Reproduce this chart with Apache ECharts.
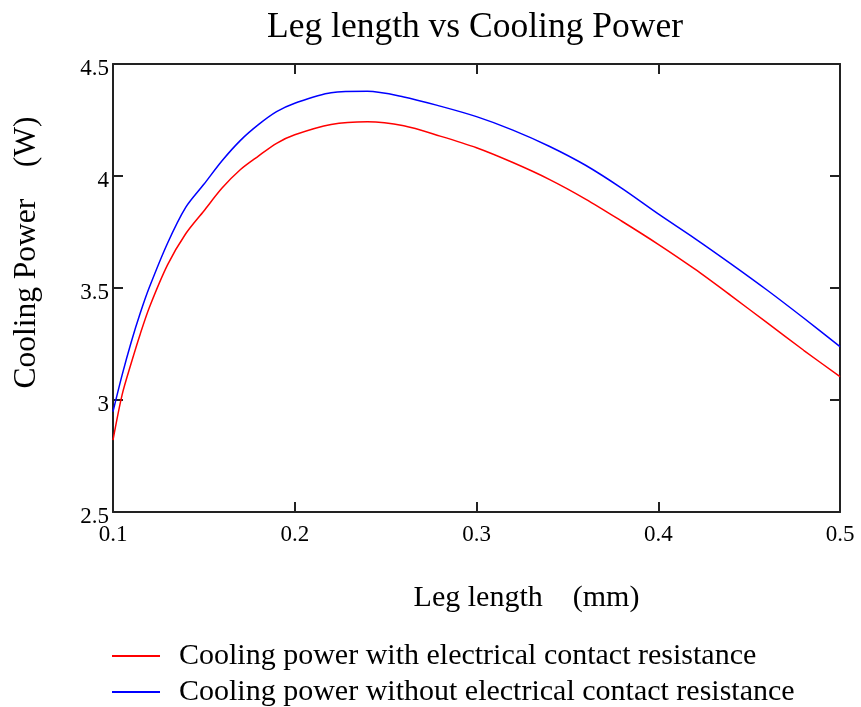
<!DOCTYPE html>
<html>
<head>
<meta charset="utf-8">
<script src="https://cdn.jsdelivr.net/npm/echarts@6/dist/echarts.min.js"></script>
<style>
html,body{margin:0;padding:0;background:#fff;}
#chart{width:861px;height:707px;}
</style>
</head>
<body>
<div id="chart"></div>
<script>
var legLength = [0.100, 0.105, 0.110, 0.115, 0.120, 0.130, 0.140, 0.150, 0.160, 0.170, 0.180, 0.190, 0.200, 0.220, 0.240, 0.260, 0.280, 0.300, 0.320, 0.340, 0.360, 0.380, 0.400, 0.420, 0.440, 0.460, 0.480, 0.500];
var powerWithContact = [2.821, 3.023, 3.164, 3.295, 3.413, 3.603, 3.742, 3.844, 3.946, 4.028, 4.089, 4.146, 4.184, 4.230, 4.242, 4.224, 4.178, 4.126, 4.060, 3.985, 3.897, 3.798, 3.695, 3.585, 3.466, 3.344, 3.222, 3.104];
var powerWithoutContact = [2.948, 3.111, 3.258, 3.388, 3.503, 3.700, 3.860, 3.963, 4.068, 4.158, 4.229, 4.287, 4.325, 4.372, 4.378, 4.353, 4.312, 4.265, 4.205, 4.133, 4.048, 3.945, 3.831, 3.722, 3.608, 3.490, 3.366, 3.238];
var seriesNames = ['Cooling power with electrical contact resistance', 'Cooling power without electrical contact resistance'];
var titleText = 'Leg length vs Cooling Power';
var xName = 'Leg length    (mm)';
var yName = 'Cooling Power    (W)';

function pairs(xs, ys){ return xs.map(function(x,i){ return [x, ys[i]]; }); }

var FONT = "'Liberation Serif', 'Times New Roman', serif";
var axisLineStyle = {color:'#222', width:2};
var chart = echarts.init(document.getElementById('chart'), null, {renderer:'canvas'});
chart.setOption({
  animation:false,
  backgroundColor:'#fff',
  title:{text:titleText, left:475, textAlign:'center', top:10, padding:0,
    textStyle:{fontFamily:FONT, fontSize:35.5, fontWeight:'normal', color:'#000'}},
  legend:{orient:'vertical', left:112, top:641, padding:0, itemWidth:48, itemHeight:2, itemGap:6,
    icon:'rect',
    data:seriesNames,
    textStyle:{fontFamily:FONT, fontSize:30, lineHeight:30, color:'#000', padding:[0,0,0,14]}},
  grid:{left:113, right:21, top:64, bottom:195, containLabel:false},
  xAxis:[{
    type:'value', min:0.1, max:0.5, interval:0.1, position:'bottom',
    name:xName, nameLocation:'middle', nameGap:71,
    nameTextStyle:{fontFamily:FONT, fontSize:30, color:'#000', padding:[0,0,0,100]},
    axisLine:{show:true, onZero:false, lineStyle:axisLineStyle},
    axisTick:{show:true, inside:true, length:10, lineStyle:axisLineStyle},
    axisLabel:{fontFamily:FONT, fontSize:23, color:'#000', margin:11,
      formatter:function(v){return String(Math.round(v*10)/10);}},
    splitLine:{show:false}
  },{
    type:'value', min:0.1, max:0.5, interval:0.1, position:'top',
    axisLine:{show:true, onZero:false, lineStyle:axisLineStyle},
    axisTick:{show:true, inside:true, length:10, lineStyle:axisLineStyle},
    axisLabel:{show:false}, splitLine:{show:false}
  }],
  yAxis:[{
    type:'value', min:2.5, max:4.5, interval:0.5, position:'left',
    name:yName, nameLocation:'middle', nameGap:70, nameRotate:90,
    nameTextStyle:{fontFamily:FONT, fontSize:31.5, color:'#000', padding:[0,0,0,71]},
    axisLine:{show:true, onZero:false, lineStyle:axisLineStyle},
    axisTick:{show:true, inside:true, length:10, lineStyle:axisLineStyle},
    axisLabel:{fontFamily:FONT, fontSize:23, color:'#000', margin:4, verticalAlign:'top', lineHeight:10,
      formatter:function(v){return String(Math.round(v*10)/10);}},
    splitLine:{show:false}
  },{
    type:'value', min:2.5, max:4.5, interval:0.5, position:'right',
    axisLine:{show:true, onZero:false, lineStyle:axisLineStyle},
    axisTick:{show:true, inside:true, length:10, lineStyle:axisLineStyle},
    axisLabel:{show:false}, splitLine:{show:false}
  }],
  series:[{
    name:seriesNames[0], type:'line', xAxisIndex:0, yAxisIndex:0,
    data:pairs(legLength, powerWithContact), smooth:0.3, symbol:'none',
    lineStyle:{color:'#ff0000', width:1.5}, itemStyle:{color:'#ff0000'}
  },{
    name:seriesNames[1], type:'line', xAxisIndex:0, yAxisIndex:0,
    data:pairs(legLength, powerWithoutContact), smooth:0.3, symbol:'none',
    lineStyle:{color:'#0000ff', width:1.5}, itemStyle:{color:'#0000ff'}
  }]
});
</script>
</body>
</html>
